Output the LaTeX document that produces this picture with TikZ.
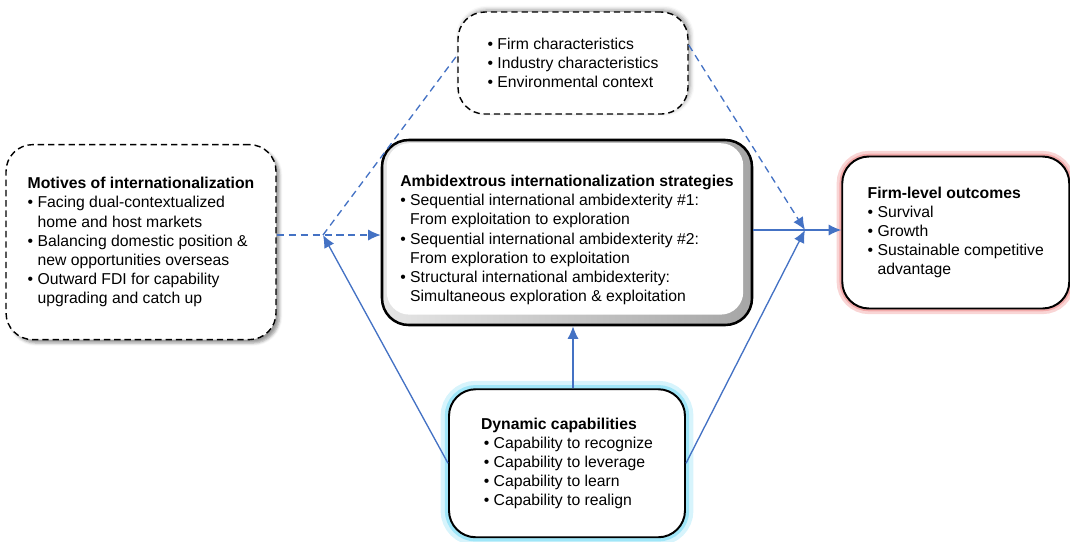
\documentclass[tikz,border=0pt]{standalone}
\usepackage{fontspec}
\setmainfont{Liberation Sans}
\usetikzlibrary{arrows.meta,positioning,calc,shadows.blur}
\definecolor{azulflecha}{RGB}{68,114,196}
\definecolor{rojobrillo}{RGB}{240,150,150}
\definecolor{cianbrillo}{RGB}{120,220,245}
\newcommand{\bul}{\textbullet\ }
\newcommand{\sng}{\phantom{\textbullet\ }}

\begin{document}
\begin{tikzpicture}[
  every node/.style={font=\fontsize{11.2}{13.6}\selectfont},
  caja/.style={
    rectangle, rounded corners=19pt,
    draw=black, line width=1.4pt, fill=white,
    align=left, inner sep=0pt},
  cajapunt/.style={
    caja, line width=1pt, dash pattern=on 4.5pt off 2.8pt},
  flecha/.style={
    draw=azulflecha, line width=0.95pt,
    -{Latex[length=9pt,width=8pt]}},
  linea/.style={draw=azulflecha, line width=0.95pt},
  punt/.style={dash pattern=on 5pt off 3.5pt},
  node distance=0.6cm and 2.6cm
]
  \useasboundingbox (0,0) rectangle (26.75,-13.525);

  %% -- Nodos -------------------------------------------------
  \node[caja, line width=1.8pt,
        minimum width=9.25cm, minimum height=4.625cm,
        left color=gray!20, right color=gray!70,
        path picture={
          \fill[white, rounded corners=16pt]
            ([xshift=0.12cm, yshift=0.26cm]path picture bounding box.south west)
            rectangle
            ([xshift=-0.22cm, yshift=-0.08cm]path picture bounding box.north east);}]
    (strat) at (14.175,-5.8125) {
    \rule{0pt}{0.66cm}\textbf{Ambidextrous internationalization strategies}\\
    \bul Sequential international ambidexterity \#1:\\
    \sng From exploitation to exploration\\
    \bul Sequential international ambidexterity \#2:\\
    \sng From exploration to exploitation\\
    \bul Structural international ambidexterity:\\
    \sng Simultaneous exploration \& exploitation};

  \node[cajapunt, minimum width=5.75cm, minimum height=2.55cm,
        blur shadow={shadow xshift=1.5pt, shadow yshift=1.5pt,
                     shadow blur radius=3pt},
        above=0.6cm of strat, xshift=0.15cm] (ctx) {
    \bul Firm characteristics\\
    \bul Industry characteristics\\
    \bul Environmental context};

  \node[cajapunt, minimum width=6.75cm, minimum height=4.875cm,
        blur shadow={shadow xshift=2.5pt, shadow yshift=-2.5pt,
                     shadow blur radius=2pt},
        left=2.6cm of strat, yshift=-0.24cm] (motives) {
    \textbf{Motives of internationalization}\\
    \bul Facing dual-contextualized\\
    \sng home and host markets\\
    \bul Balancing domestic position \&\\
    \sng new opportunities overseas\\
    \bul Outward FDI for capability\\
    \sng upgrading and catch up};

  \node[caja, minimum width=5.675cm, minimum height=3.8cm,
        preaction={draw=rojobrillo!40, line width=8pt},
        preaction={draw=rojobrillo!80, line width=4pt},
        right=2.2cm of strat] (outcomes) {
    \textbf{Firm-level outcomes}\\
    \bul Survival\\
    \bul Growth\\
    \bul Sustainable competitive\\
    \sng advantage};

  \node[caja, minimum width=5.9cm, minimum height=3.7cm,
        preaction={draw=cianbrillo!30, line width=12pt},
        preaction={draw=cianbrillo!70, line width=6pt},
        below=1.55cm of strat] (cap) {
    \textbf{Dynamic capabilities}\\
    \hspace*{2pt}\bul Capability to recognize\\
    \hspace*{2pt}\bul Capability to leverage\\
    \hspace*{2pt}\bul Capability to learn\\
    \hspace*{2pt}\bul Capability to realign};

  %% -- Puntos de cruce ----------------------------------------
  \coordinate (jl) at (8.075,-5.875);
  \coordinate (jr) at (20.125,-5.75);

  %% -- Flechas punteadas --------------------------------------
  \draw[flecha, punt] (motives.east |- jl) -- (strat.west |- jl);
  \draw[linea, punt] (jl) -- ([yshift=0.2cm]ctx.west);
  \draw[flecha, punt] ([yshift=0.45cm]ctx.east) -- (jr);

  %% -- Flechas continuas --------------------------------------
  \draw[flecha] (strat.east |- jr) -- (outcomes.west |- jr);
  \draw[flecha] (cap.west) -- (jl);
  \draw[flecha] (cap.east) -- (jr);
  \draw[flecha] (cap.north -| ctx) -- (strat.south -| ctx);

\end{tikzpicture}
\end{document}
